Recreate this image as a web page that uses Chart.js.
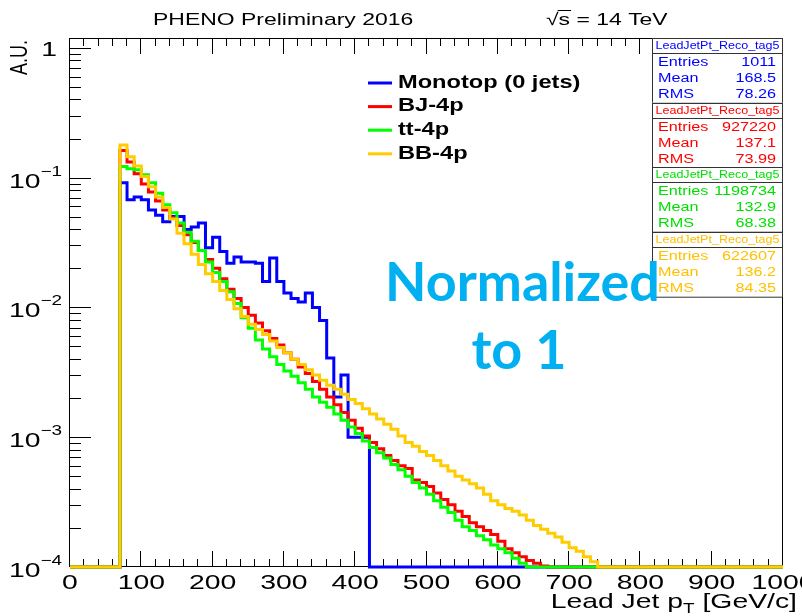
<!DOCTYPE html>
<html>
<head>
<meta charset="utf-8">
<title>Lead Jet pT</title>
<script src="https://cdn.jsdelivr.net/npm/chart.js@4"></script>
<style>
  html, body { margin: 0; padding: 0; background: #ffffff; }
  canvas { display: block; }
</style>
</head>
<body>
<canvas id="leadJetPt" width="802" height="616"></canvas>
<script>
// axis ranges
const xMin = 0, xMax = 1000;
const yMin = 1e-4, yMax = 1.19;
const binWidth = 10;
const firstBinLow = 70;   // every series starts in the 70-80 GeV bin

// bin contents (normalised to 1), one value per 10 GeV bin from 70 GeV
const monotop = [
  9.12e-2, 6.76e-2, 7.08e-2, 6.76e-2, 5.62e-2, 5.13e-2, 4.57e-2, 5.01e-2, 5.01e-2, 3.98e-2,
  4.17e-2, 4.47e-2, 2.88e-2, 3.47e-2, 2.69e-2, 2.19e-2, 2.45e-2, 2.24e-2, 2.24e-2, 2.19e-2,
  1.58e-2, 2.40e-2, 1.58e-2, 1.29e-2, 1.17e-2, 1.10e-2, 1.29e-2, 1.00e-2, 7.94e-3, 4.07e-3,
  2.04e-3, 3.02e-3, 1.00e-3, 1.00e-3, 1.00e-3
];
const bj4p = [
  1.62e-1, 1.32e-1, 1.07e-1, 8.91e-2, 7.76e-2, 6.61e-2, 5.62e-2, 4.90e-2, 4.27e-2, 3.63e-2,
  3.16e-2, 2.75e-2, 2.34e-2, 2.00e-2, 1.66e-2, 1.38e-2, 1.17e-2, 1.00e-2, 8.71e-3, 7.59e-3,
  6.61e-3, 5.75e-3, 5.13e-3, 4.47e-3, 3.98e-3, 3.47e-3, 3.09e-3, 2.69e-3, 2.34e-3, 2.04e-3,
  1.78e-3, 1.55e-3, 1.35e-3, 1.17e-3, 1.02e-3, 9.12e-4, 8.13e-4, 7.24e-4, 6.61e-4, 6.03e-4,
  5.75e-4, 4.68e-4, 4.47e-4, 4.17e-4, 3.72e-4, 3.31e-4, 3.02e-4, 2.69e-4, 2.45e-4, 2.19e-4,
  2.04e-4, 1.91e-4, 1.78e-4, 1.58e-4, 1.38e-4, 1.29e-4, 1.20e-4, 1.12e-4, 1.07e-4, 1.02e-4
];
const tt4p = [
  1.22e-1, 1.17e-1, 1.15e-1, 1.05e-1, 9.12e-2, 7.59e-2, 6.17e-2, 5.37e-2, 4.47e-2, 3.80e-2,
  3.24e-2, 2.75e-2, 2.24e-2, 1.86e-2, 1.58e-2, 1.32e-2, 1.07e-2, 8.32e-3, 6.92e-3, 5.62e-3,
  4.79e-3, 4.17e-3, 3.63e-3, 3.24e-3, 2.95e-3, 2.63e-3, 2.34e-3, 2.04e-3, 1.86e-3, 1.70e-3,
  1.51e-3, 1.35e-3, 1.20e-3, 1.07e-3, 9.33e-4, 8.32e-4, 7.59e-4, 6.92e-4, 6.17e-4, 5.62e-4,
  5.01e-4, 4.47e-4, 4.07e-4, 3.63e-4, 3.24e-4, 2.88e-4, 2.63e-4, 2.29e-4, 2.04e-4, 1.91e-4,
  1.74e-4, 1.62e-4, 1.48e-4, 1.38e-4, 1.29e-4, 1.17e-4, 1.07e-4
];
const bb4p = [
  1.78e-1, 1.45e-1, 1.23e-1, 1.02e-1, 8.51e-2, 7.08e-2, 5.89e-2, 4.79e-2, 3.72e-2, 3.09e-2,
  2.57e-2, 2.14e-2, 1.82e-2, 1.58e-2, 1.35e-2, 1.15e-2, 9.77e-3, 8.51e-3, 7.41e-3, 6.76e-3,
  6.17e-3, 5.50e-3, 4.90e-3, 4.47e-3, 3.98e-3, 3.63e-3, 3.31e-3, 3.02e-3, 2.75e-3, 2.51e-3,
  2.34e-3, 2.14e-3, 1.95e-3, 1.82e-3, 1.66e-3, 1.51e-3, 1.38e-3, 1.26e-3, 1.15e-3, 1.02e-3,
  9.12e-4, 8.51e-4, 7.76e-4, 7.24e-4, 6.61e-4, 6.03e-4, 5.50e-4, 5.01e-4, 4.68e-4, 4.37e-4,
  4.07e-4, 3.63e-4, 3.24e-4, 3.02e-4, 2.82e-4, 2.69e-4, 2.51e-4, 2.29e-4, 2.09e-4, 1.95e-4,
  1.82e-4, 1.70e-4, 1.55e-4, 1.41e-4, 1.32e-4, 1.20e-4, 1.10e-4
];

const seriesNames = ['Monotop (0 jets)', 'BJ-4p', 'tt-4p', 'BB-4p'];
const seriesColors = ['#0000ff', '#ff0000', '#00ff00', '#ffcc00'];
const statColors = ['#0000ff', '#ff0000', '#00e000', '#ffc000'];

// stat boxes
const statTitle = 'LeadJetPt_Reco_tag5';
const statEntries = [1011, 927220, 1198734, 622607];
const statMean = [168.5, 137.1, 132.9, 136.2];
const statRms = [78.26, 73.99, 68.38, 84.35];

// axis ticks
const xMajorTicks = [0, 100, 200, 300, 400, 500, 600, 700, 800, 900, 1000];
const xMinorStep = 20;
const yDecades = [0, -1, -2, -3, -4];

const SX = 1.35; // the ROOT picture is stretched sideways, so is its text
const FONT = 'Liberation Sans, Arial, sans-serif';

function drawText(ctx, s, x, y, o) {
  o = o || {};
  ctx.save();
  ctx.font = o.font || ('21px ' + FONT);
  ctx.fillStyle = o.color || '#000';
  ctx.textBaseline = o.baseline || 'alphabetic';
  ctx.textAlign = 'left';
  const sx = o.sx || SX;
  const w = ctx.measureText(s).width * sx;
  let left = x;
  if (o.align === 'right') left = x - w;
  else if (o.align === 'center') left = x - w / 2;
  ctx.translate(left, y);
  ctx.scale(sx, 1);
  ctx.fillText(s, 0, 0);
  ctx.restore();
  return w;
}

function textWidth(ctx, s, font, sx) {
  ctx.save();
  ctx.font = font;
  const w = ctx.measureText(s).width * (sx || SX);
  ctx.restore();
  return w;
}

function histPoints(contents) {
  const pts = [];
  for (let lo = xMin; lo < xMax; lo += binWidth) {
    const i = Math.round((lo - firstBinLow) / binWidth);
    const v = (i >= 0 && i < contents.length && contents[i] > 0) ? contents[i] : yMin;
    pts.push({ x: lo, y: v });
  }
  pts.push({ x: xMax, y: pts[pts.length - 1].y });
  return pts;
}

const seriesData = [monotop, bj4p, tt4p, bb4p];

const rootStyle = {
  id: 'rootStyle',
  beforeDatasetsDraw(chart) {
    const ctx = chart.ctx, a = chart.chartArea;
    const xs = chart.scales.x, ys = chart.scales.y;
    ctx.save();
    ctx.strokeStyle = '#000';
    ctx.lineWidth = 1;
    ctx.strokeRect(Math.round(a.left) - 0.5, Math.round(a.top) + 0.5,
      Math.round(a.right - a.left), Math.round(a.bottom - a.top) - 1);
    ctx.beginPath();
    // x ticks, bottom and top
    for (let v = xMin; v <= xMax; v += xMinorStep) {
      const px = Math.round(xs.getPixelForValue(v)) - 0.5;
      const len = xMajorTicks.includes(v) ? 16 : 8;
      ctx.moveTo(px, a.bottom); ctx.lineTo(px, a.bottom - len);
      ctx.moveTo(px, a.top); ctx.lineTo(px, a.top + len);
    }
    // y ticks, decades and 2..9
    yDecades.forEach(e => {
      const d = Math.pow(10, e);
      const py = Math.round(ys.getPixelForValue(d)) + 0.5;
      ctx.moveTo(a.left, py); ctx.lineTo(a.left + 21, py);
      for (let m = 2; m <= 9; m++) {
        const v = m * d;
        if (v > yMax) break;
        const pm = Math.round(ys.getPixelForValue(v)) + 0.5;
        ctx.moveTo(a.left, pm); ctx.lineTo(a.left + 11, pm);
      }
    });
    ctx.stroke();
    ctx.restore();
  },
  afterDatasetsDraw(chart) {
    const ctx = chart.ctx, a = chart.chartArea;
    const xs = chart.scales.x, ys = chart.scales.y;

    // x tick labels
    xMajorTicks.forEach(v => {
      drawText(ctx, String(v), xs.getPixelForValue(v), 589, { align: 'center' });
    });
    // y tick labels
    yDecades.forEach(e => {
      const py = ys.getPixelForValue(Math.pow(10, e));
      if (e === 0) {
        drawText(ctx, '1', 57, py + 8, { align: 'right' });
      } else {
        const ex = '\u2212' + (-e);
        const exW = drawText(ctx, ex, 62, py - 2, { align: 'right', font: '14px ' + FONT });
        drawText(ctx, '10', 62 - exW, py + 10, { align: 'right' });
      }
    });
    // axis titles
    const tEnd = 797;
    const brW = textWidth(ctx, ' [GeV/c]', '21px ' + FONT);
    const tW = textWidth(ctx, 'T', '14px ' + FONT);
    drawText(ctx, ' [GeV/c]', tEnd, 608, { align: 'right' });
    drawText(ctx, 'T', tEnd - brW, 613, { align: 'right', font: '14px ' + FONT });
    drawText(ctx, 'Lead Jet p', tEnd - brW - tW, 608, { align: 'right' });

    ctx.save();
    ctx.translate(27, 75);
    ctx.rotate(-Math.PI / 2);
    ctx.scale(1, SX);
    ctx.font = '18px ' + FONT;
    ctx.fillStyle = '#000';
    ctx.textBaseline = 'alphabetic';
    ctx.fillText('A.U.', 0, 0);
    ctx.restore();

    // header
    drawText(ctx, 'PHENO Preliminary 2016', 153, 25, { font: '17px ' + FONT });
    const rootW = drawText(ctx, '\u221A', 546, 25, { font: '17px ' + FONT });
    const sW = drawText(ctx, 's', 546 + rootW, 25, { font: '17px ' + FONT });
    drawText(ctx, ' = 14 TeV', 546 + rootW + sW, 25, { font: '17px ' + FONT });
    ctx.save();
    ctx.strokeStyle = '#000';
    ctx.lineWidth = 1;
    ctx.beginPath();
    ctx.moveTo(546 + rootW - 1, 10.5); ctx.lineTo(546 + rootW + sW + 1, 10.5);
    ctx.stroke();
    ctx.restore();

    // legend
    const legTop = 83, legStep = 23.6;
    seriesNames.forEach((name, k) => {
      const y = legTop + k * legStep;
      ctx.save();
      ctx.strokeStyle = seriesColors[k];
      ctx.lineWidth = 3;
      ctx.beginPath();
      ctx.moveTo(368, y); ctx.lineTo(392, y);
      ctx.stroke();
      ctx.restore();
      drawText(ctx, name, 398, y, { font: 'bold 17.5px ' + FONT, baseline: 'middle' });
    });

    // stat boxes
    const bx = 652, bw = a.right - bx, bh = 64.7, titleH = 15;
    statEntries.forEach((n, k) => {
      const top = a.top + k * bh;
      ctx.save();
      ctx.fillStyle = '#fff';
      ctx.fillRect(bx, top, bw, bh);
      ctx.strokeStyle = '#333';
      ctx.lineWidth = 1;
      ctx.strokeRect(bx + 0.5, Math.round(top) + 0.5, bw - 1, bh);
      ctx.beginPath();
      ctx.moveTo(bx, Math.round(top + titleH) + 0.5);
      ctx.lineTo(bx + bw, Math.round(top + titleH) + 0.5);
      ctx.stroke();
      ctx.restore();
      const col = statColors[k];
      const tf = '10.5px ' + FONT;
      const tsx = Math.min(SX, 124 / textWidth(ctx, statTitle, tf, 1));
      drawText(ctx, statTitle, bx + bw / 2, top + 8, { font: tf, sx: tsx, align: 'center', baseline: 'middle', color: col });
      const rows = [['Entries', String(n)], ['Mean', String(statMean[k])], ['RMS', String(statRms[k])]];
      rows.forEach((r, j) => {
        const y = top + 24.5 + j * 16;
        drawText(ctx, r[0], bx + 6, y, { font: '12px ' + FONT, baseline: 'middle', color: col });
        drawText(ctx, r[1], bx + bw - 7, y, { font: '12px ' + FONT, baseline: 'middle', color: col, align: 'right' });
      });
    });

    // overlay note
    ctx.save();
    ctx.font = 'bold 54px Lato, sans-serif';
    const fit = 54 * 275 / ctx.measureText('Normalized').width;
    ctx.restore();
    const nf = 'bold ' + fit.toFixed(1) + 'px Lato, sans-serif';
    drawText(ctx, 'Normalized', 385, 301, { font: nf, sx: 1, color: '#00b0f0' });
    drawText(ctx, 'to 1', 519, 369, { font: nf, sx: 1, color: '#00b0f0', align: 'center' });
  }
};

new Chart(document.getElementById('leadJetPt'), {
  type: 'line',
  data: {
    datasets: seriesNames.map((name, k) => ({
      label: name,
      data: histPoints(seriesData[k]),
      borderColor: seriesColors[k],
      backgroundColor: seriesColors[k],
      borderWidth: 3,
      pointRadius: 0,
      stepped: 'before',
      fill: false,
      clip: false,
      borderJoinStyle: 'miter',
      borderCapStyle: 'butt',
      order: seriesNames.length - 1 - k
    }))
  },
  options: {
    responsive: false,
    animation: false,
    devicePixelRatio: 1,
    layout: { padding: { top: 38, right: 19, left: 0, bottom: 0 } },
    plugins: { legend: { display: false }, tooltip: { enabled: false } },
    scales: {
      x: {
        type: 'linear', min: xMin, max: xMax,
        ticks: { display: false }, grid: { display: false }, border: { display: false },
        afterFit: s => { s.height = 49; }
      },
      y: {
        type: 'logarithmic', min: yMin, max: yMax,
        ticks: { display: false }, grid: { display: false }, border: { display: false },
        afterFit: s => { s.width = 70; }
      }
    }
  },
  plugins: [rootStyle]
});
</script>
</body>
</html>
